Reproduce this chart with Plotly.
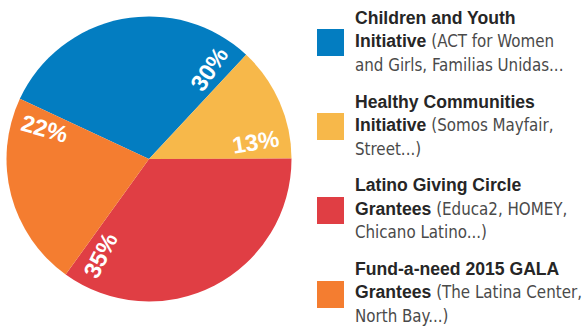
import math
import plotly.graph_objects as go

# ---- data ----
categories = ["Children and Youth Initiative", "Healthy Communities Initiative",
              "Latino Giving Circle Grantees", "Fund-a-need 2015 GALA Grantees"]
legend_bold = [["Children and Youth", "Initiative"], ["Healthy Communities", "Initiative"],
               ["Latino Giving Circle", "Grantees"], ["Fund-a-need 2015 GALA", "Grantees"]]
legend_detail = [["(ACT for Women", "and Girls, Familias Unidas..."],
                 ["(Somos Mayfair,", "Street...)"],
                 ["(Educa2, HOMEY,", "Chicano Latino...)"],
                 ["(The Latina Center,", "North Bay...)"]]
values = [30, 13, 35, 22]
colors = ["#037DC1", "#F7B84A", "#E03E44", "#F47D30"]

# ---- layout geometry (pixels) ----
W, H = 582, 331
CX, CY, R = 149, 159, 142.5
ROT = 295  # start angle of first slice, degrees clockwise from 12 o'clock

fig = go.Figure(go.Pie(
    labels=categories, values=values, sort=False, direction="clockwise",
    rotation=ROT, marker=dict(colors=colors, line=dict(width=0)),
    textinfo="none", hoverinfo="label+percent", showlegend=False,
    domain=dict(x=[(CX - R) / W, (CX + R) / W],
                y=[(H - CY - R) / H, (H - CY + R) / H]),
))

annotations = []
shapes = []
FONT = "Liberation Sans, Arial, sans-serif"
NARROW = "Liberation Sans Narrow, DejaVu Sans Condensed, Liberation Sans"

# slice labels: radial, placed near the clockwise end of each slice
total = sum(values)
angle = ROT
for v in values:
    end = angle + v / total * 360
    th = end - 9
    rr = 0.76 * R
    px = CX + rr * math.sin(math.radians(th))
    py = CY - rr * math.cos(math.radians(th))
    ta = ((th - 90) + 180) % 360 - 180
    if ta > 90:
        ta -= 180
    elif ta < -90:
        ta += 180
    annotations.append(dict(
        x=px / W, y=1 - py / H, xref="paper", yref="paper",
        text=f"<b>{round(v / total * 100)}%</b>", showarrow=False,
        textangle=ta, xanchor="center", yanchor="middle",
        font=dict(family=FONT, size=23.5, color="white"),
    ))
    angle = end

# custom legend
BOLD_C, REG_C = "#262626", "#4a4a4a"
for i, (b, d, c) in enumerate(zip(legend_bold, legend_detail, colors)):
    yc = 42.5 + 84 * i
    shapes.append(dict(type="rect", xref="paper", yref="paper",
                       x0=317 / W, x1=344 / W, y0=1 - (yc + 13.5) / H, y1=1 - (yc - 13.5) / H,
                       fillcolor=c, line=dict(width=0)))
    base = 25 + 83.5 * i
    span = f"style='color:{REG_C};font-family:{NARROW};font-size:16.8px'"
    lines = [
        f"<b>{b[0]}</b>",
        f"<b>{b[1]}</b> <span {span}>{d[0]}</span>",
        f"<span {span}>{d[1]}</span>",
    ]
    for k, t in enumerate(lines):
        bl = base + 23.5 * k
        annotations.append(dict(
            x=354 / W, y=1 - bl / H, xref="paper", yref="paper",
            xanchor="left", yanchor="bottom", align="left", showarrow=False,
            text=t, borderpad=0, yshift=-4,
            font=dict(family=FONT, size=17.6, color=BOLD_C),
        ))

fig.update_layout(
    width=W, height=H, margin=dict(l=0, r=0, t=0, b=0),
    paper_bgcolor="white", plot_bgcolor="white",
    annotations=annotations, shapes=shapes,
)

fig.write_html("out.html")
